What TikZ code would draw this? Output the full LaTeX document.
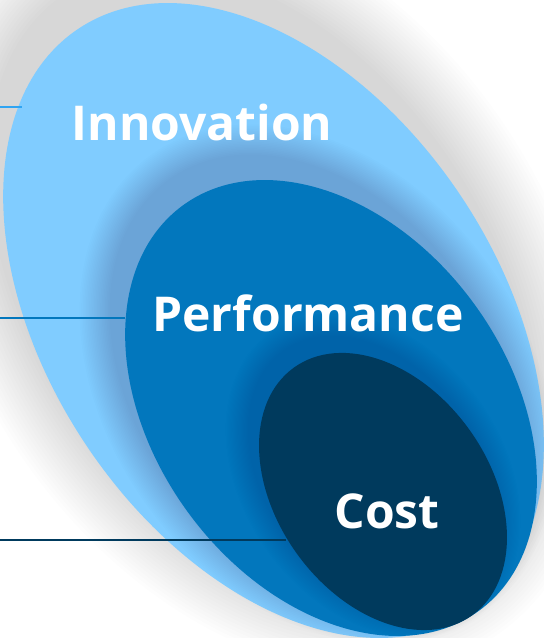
\documentclass[tikz,border=0pt]{standalone}
\usepackage{fontspec}
\setmainfont{Open Sans}
\definecolor{innovBlue}{HTML}{80CCFF}
\definecolor{perfBlue}{HTML}{0277BD}
\definecolor{costBlue}{HTML}{003A5D}
\definecolor{innovLine}{HTML}{2FA4F2}
\begin{document}
\begin{tikzpicture}
[x=1pt,y=-1pt,
  shadowLayer/.style={fill=black,opacity=#1},
  labelDecorate/.style={text=white,font=\bfseries\fontsize{48}{52}\selectfont,inner sep=0pt,anchor=base},
  lineDecorate/.style={line width=1.8pt}]
\useasboundingbox[fill=white] (0,0) rectangle (544,638);
%% ellipses, each with a soft shadow drawn first
\foreach \ovalname/\x/\y/\a/\b/\ang/\col/\dx/\dy/\spread/\op in
  {innov/273.5/320.5/351/225/-56.2/innovBlue/-12/-32/3.4/0.006,
   perf/331/408/251/177/-53.8/perfBlue/-14/-24/1.6/0.006,
   cost/383/491.5/152.6/106.2/-54.3/costBlue/-10/-16/1.2/0.004}
{
  \coordinate (\ovalname Shadow) at (\x+\dx,\y+\dy);
  \foreach \i in {1,...,20}
    \fill[shadowLayer=\op,rotate around={\ang:(\ovalname Shadow)}] (\ovalname Shadow) ellipse [x radius=\a+\spread*\i, y radius=\b+\spread*\i];
  \coordinate (\ovalname) at (\x,\y);
  \fill[\col,rotate around={\ang:(\ovalname)}] (\ovalname) ellipse [x radius=\a, y radius=\b];
}
%% labels
\node[labelDecorate] (innovation) at (202,140) {Innovation};
\node[labelDecorate] (performance) at (308,331) {Performance};
\node[labelDecorate] (cost) at (387,528) {Cost};
%% lines
\foreach \linename/\y/\xend/\col in {innov/107/22/innovLine, perf/318/125/perfBlue, cost/540/286/costBlue}
{
  \coordinate (\linename Start) at (0,\y);
  \coordinate (\linename End) at (\xend,\y);
  \draw[lineDecorate,\col] (\linename Start) -- (\linename End);
}
\end{tikzpicture}
\end{document}
